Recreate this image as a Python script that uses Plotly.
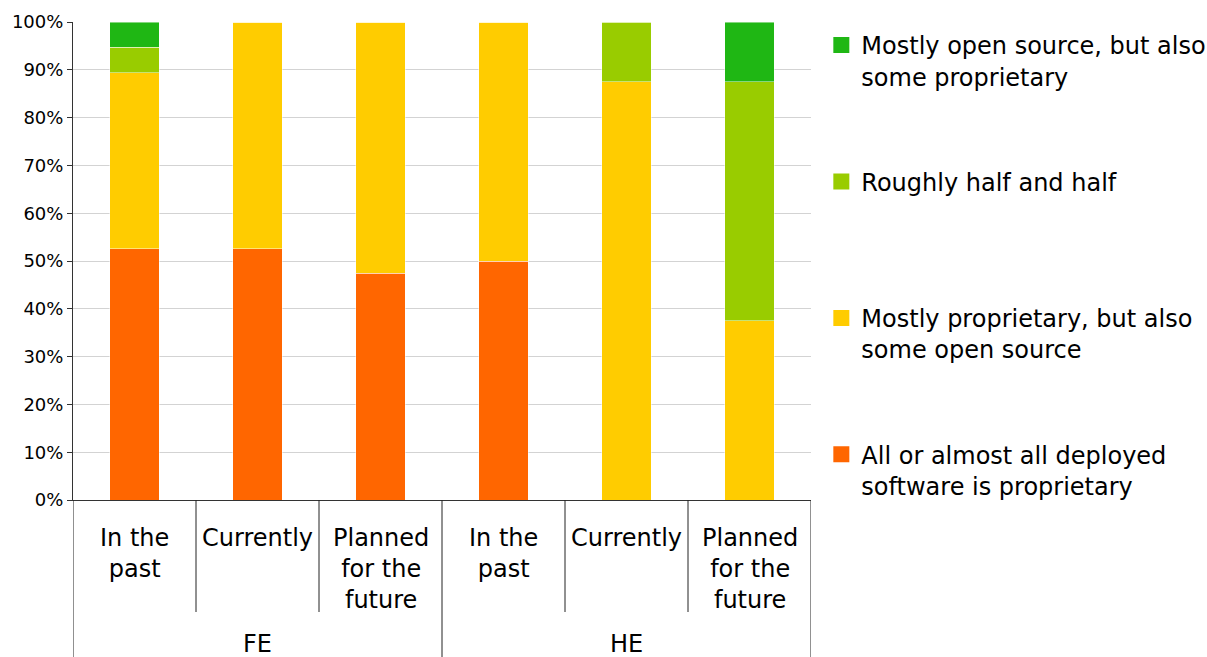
import plotly.graph_objects as go

groups = ["FE", "HE"]
periods = ["In the<br>past", "Currently", "Planned<br>for the<br>future"]
series_names = [
    "All or almost all deployed<br>software is proprietary",
    "Mostly proprietary, but also<br>some open source",
    "Roughly half and half<br> ",
    "Mostly open source, but also<br>some proprietary",
]
colors = ["#FF6600", "#FFCC00", "#99CC00", "#1FB714"]

# values per bar: FE past, FE current, FE planned, HE past, HE current, HE planned
all_proprietary = [52.6, 52.6, 47.4, 50.0, 0.0, 0.0]
mostly_proprietary = [36.8, 47.4, 52.6, 50.0, 87.5, 37.5]
half_half = [5.3, 0.0, 0.0, 0.0, 12.5, 50.0]
mostly_open = [5.3, 0.0, 0.0, 0.0, 0.0, 12.5]
series_values = [all_proprietary, mostly_proprietary, half_half, mostly_open]

y_ticks = list(range(0, 101, 10))
y_ticklabels = [f"{v}%" for v in y_ticks]

FONT = "DejaVu Sans, Verdana, sans-serif"
W, H = 1207, 657
ML, MR, MT, MB = 73, 396, 22, 157
PH = H - MT - MB

def py(pix):
    """convert pixel y (from top) to paper y"""
    return (H - MB - pix) / PH

n = len(groups) * len(periods)
xs = list(range(n))

fig = go.Figure()
for name, vals, col in zip(series_names, series_values, colors):
    fig.add_trace(go.Bar(
        x=xs, y=vals, width=0.4, name=name, showlegend=False,
        marker=dict(color=col, line=dict(color="rgba(255,255,255,0.45)", width=1)),
    ))
# legend entries, top to bottom (reverse of stacking order)
for name, col in reversed(list(zip(series_names, colors))):
    fig.add_trace(go.Scatter(
        x=[None], y=[None], mode="markers", name=name, legendgroup=name,
        marker=dict(symbol="square", size=16, color=col),
    ))

shapes = []
annotations = []
for i in range(n + 1):
    xb = i - 0.5
    long = (i % len(periods) == 0)
    shapes.append(dict(type="line", xref="x", yref="paper", x0=xb, x1=xb,
                       y0=0, y1=py(657 if long else 612),
                       line=dict(color="#222", width=1)))
for gi, g in enumerate(groups):
    for pi, p in enumerate(periods):
        k = gi * len(periods) + pi
        annotations.append(dict(x=k, y=py(522), xref="x", yref="paper", text=p,
                                showarrow=False, yanchor="top", xanchor="center",
                                font=dict(size=24, family=FONT, color="#000")))
    center = gi * len(periods) + (len(periods) - 1) / 2
    annotations.append(dict(x=center, y=py(644), xref="x", yref="paper", text=g,
                            showarrow=False, yanchor="middle", xanchor="center",
                            font=dict(size=24, family=FONT, color="#000")))

fig.update_layout(
    width=W, height=H,
    barmode="stack",
    margin=dict(l=ML, r=MR, t=MT, b=MB, autoexpand=False),
    plot_bgcolor="white", paper_bgcolor="white",
    font=dict(family=FONT, color="#000"),
    xaxis=dict(range=[-0.5, n - 0.5], showticklabels=False, showgrid=False,
               zeroline=False, showline=True, linecolor="#333", linewidth=1,
               ticks="", automargin=False),
    yaxis=dict(range=[0, 100], tickvals=y_ticks, ticktext=y_ticklabels,
               showgrid=True, gridcolor="#d3d3d3", gridwidth=1, zeroline=False,
               showline=True, linecolor="#333", linewidth=1,
               ticks="outside", ticklen=5, tickcolor="#333", automargin=False,
               tickfont=dict(size=18, family=FONT, color="#000")),
    legend=dict(x=1.014, xanchor="left", y=py(23), yanchor="top",
                traceorder="grouped", tracegroupgap=71, valign="top",
                maxheight=640,
                font=dict(size=24, family=FONT, color="#000"),
                bgcolor="rgba(0,0,0,0)", itemclick=False),
    shapes=shapes,
    annotations=annotations,
)

fig.write_html("out.html", config={"displayModeBar": False},
               post_script="document.body.style.margin='0';document.body.style.overflow='hidden';")
